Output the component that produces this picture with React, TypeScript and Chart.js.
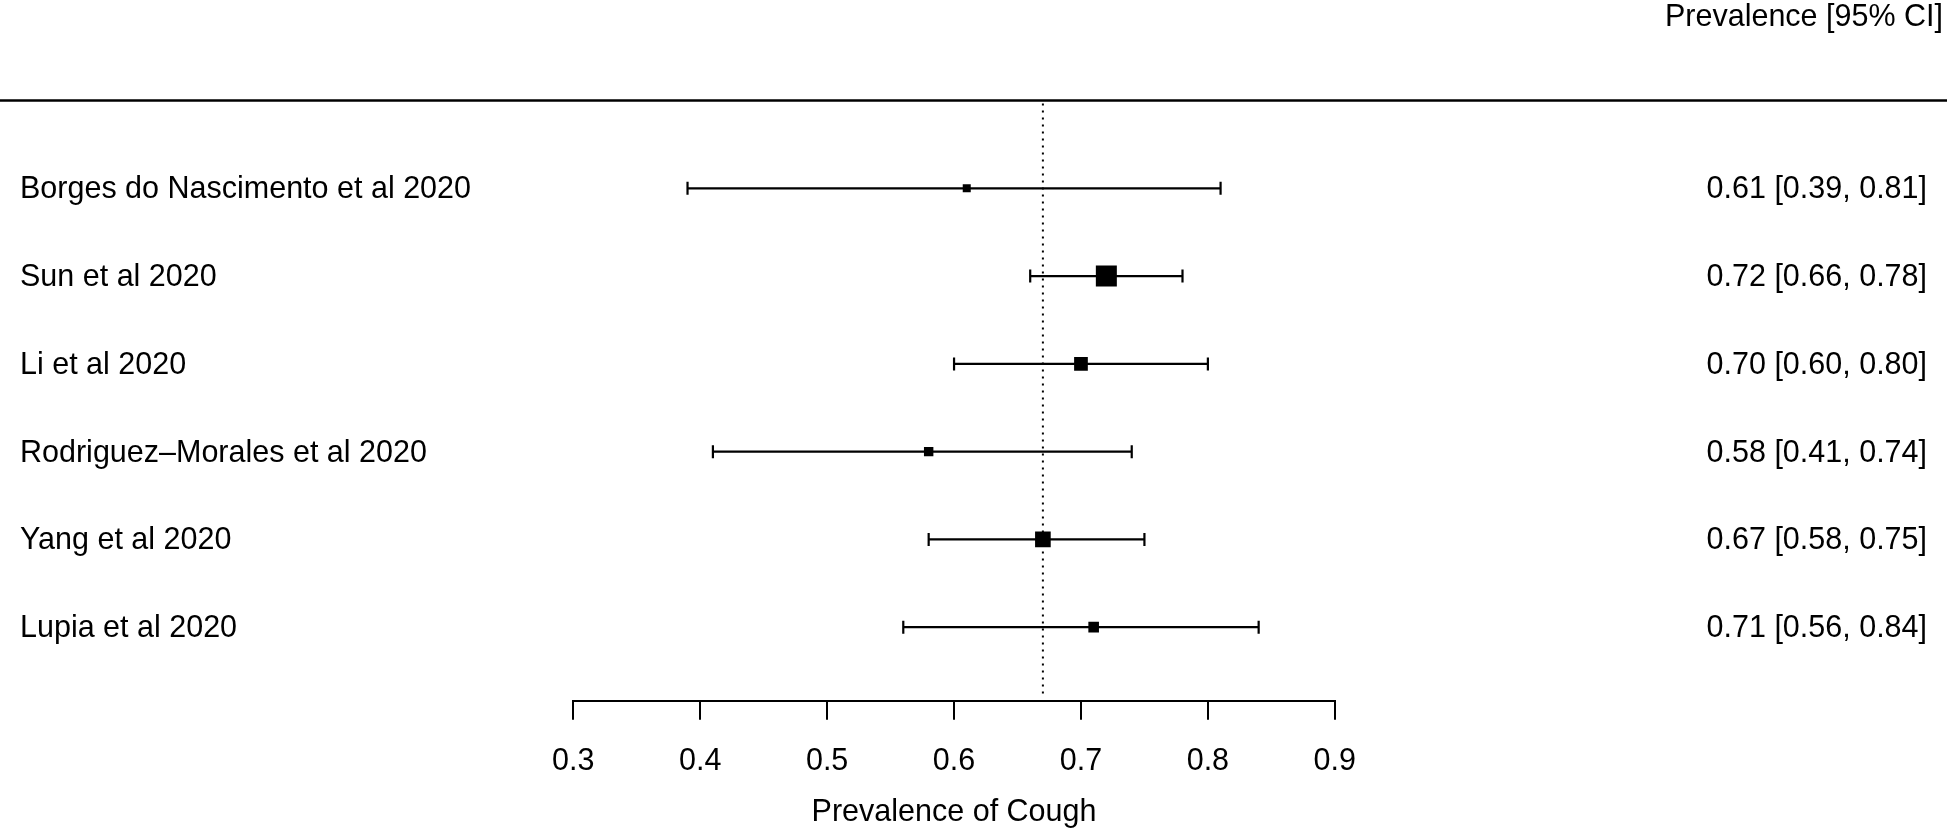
import React, { useEffect, useRef } from "react";
import { Chart, registerables } from "chart.js";

Chart.register(...registerables);

// ---- data ----
const studies: string[] = [
  "Borges do Nascimento et al 2020",
  "Sun et al 2020",
  "Li et al 2020",
  "Rodriguez–Morales et al 2020",
  "Yang et al 2020",
  "Lupia et al 2020",
];
const estimates: number[] = [0.61, 0.72, 0.70, 0.58, 0.67, 0.71];
const lowerCI: number[] = [0.39, 0.66, 0.60, 0.41, 0.58, 0.56];
const upperCI: number[] = [0.81, 0.78, 0.80, 0.74, 0.75, 0.84];
const pooledEstimate = 0.67;
const xTicks: number[] = [0.3, 0.4, 0.5, 0.6, 0.7, 0.8, 0.9];
const headerText = "Prevalence [95% CI]";
const xTitle = "Prevalence of Cough";

// ---- style ----
const FONT = "'Liberation Sans', Arial, Helvetica, sans-serif";
const FS = 30.5;
const W = 1947;
const H = 829;

// marker side (px) proportional to precision (1 / CI width), scaled between min and max
const precision = lowerCI.map((lo, i) => 1 / (upperCI[i] - lo));
const pMin = Math.min(...precision);
const pMax = Math.max(...precision);
const markerSide = precision.map((p) => 8 + ((p - pMin) / (pMax - pMin)) * 13);

const rowY = studies.map((_, i) => studies.length - i);

const forestPlugin = {
  id: "forest",
  beforeDatasetsDraw(chart: any) {
    const { ctx, chartArea, scales } = chart;
    const xs = scales.x;
    const ys = scales.y;
    ctx.save();
    // top rule
    ctx.strokeStyle = "#000";
    ctx.lineWidth = 2.5;
    ctx.beginPath();
    ctx.moveTo(0, ys.getPixelForValue(7));
    ctx.lineTo(W, ys.getPixelForValue(7));
    ctx.stroke();

    // header
    ctx.fillStyle = "#000";
    ctx.font = `${FS}px ${FONT}`;
    ctx.textAlign = "right";
    ctx.textBaseline = "middle";
    ctx.fillText(headerText, 1943, 18);

    // dotted pooled line
    const px = xs.getPixelForValue(pooledEstimate);
    ctx.lineWidth = 2;
    ctx.setLineDash([2, 5]);
    ctx.beginPath();
    ctx.moveTo(px, chartArea.top + 3);
    ctx.lineTo(px, chartArea.bottom - 4);
    ctx.stroke();
    ctx.setLineDash([]);

    // error bars + texts
    studies.forEach((name, i) => {
      const y = ys.getPixelForValue(rowY[i]);
      const x1 = xs.getPixelForValue(lowerCI[i]);
      const x2 = xs.getPixelForValue(upperCI[i]);
      ctx.lineWidth = 2.2;
      ctx.beginPath();
      ctx.moveTo(x1, y);
      ctx.lineTo(x2, y);
      ctx.moveTo(x1, y - 6.5);
      ctx.lineTo(x1, y + 6.5);
      ctx.moveTo(x2, y - 6.5);
      ctx.lineTo(x2, y + 6.5);
      ctx.stroke();

      ctx.textAlign = "left";
      ctx.fillText(name, 20, y + 1.5);
      ctx.textAlign = "right";
      ctx.fillText(
        `${estimates[i].toFixed(2)} [${lowerCI[i].toFixed(2)}, ${upperCI[i].toFixed(2)}]`,
        1927,
        y + 1.5
      );
    });
    ctx.restore();
  },
};

export default function App() {
  const ref = useRef<HTMLCanvasElement | null>(null);
  useEffect(() => {
    document.body.style.margin = "0";
    if (!ref.current) return;
    const chart = new Chart(ref.current, {
      type: "scatter",
      data: {
        datasets: [
          {
            data: estimates.map((v, i) => ({ x: v, y: rowY[i] })),
            pointStyle: "rect",
            pointRadius: markerSide.map((s) => s / Math.SQRT2),
            backgroundColor: "#000",
            borderWidth: 0,
          },
        ],
      },
      options: {
        animation: false,
        responsive: true,
        maintainAspectRatio: false,
        events: [],
        layout: { padding: { left: 573.3, right: W - 1334.8, top: 100.6, bottom: 0 } },
        plugins: { legend: { display: false }, tooltip: { enabled: false } },
        scales: {
          x: {
            type: "linear",
            min: 0.3,
            max: 0.9,
            afterBuildTicks: (scale: any) => {
              scale.ticks = xTicks.map((v) => ({ value: v }));
            },
            afterFit: (scale: any) => {
              scale.height = H - 700.7;
            },
            ticks: {
              color: "#000",
              font: { family: FONT, size: FS },
              padding: 24,
              maxRotation: 0,
              autoSkip: false,
              callback: (v: any) => Number(v).toFixed(1),
            },
            grid: {
              drawOnChartArea: false,
              drawTicks: true,
              tickLength: 19,
              color: "#000",
              lineWidth: 2,
            },
            border: { display: true, color: "#000", width: 2 },
            title: {
              display: true,
              text: xTitle,
              color: "#000",
              font: { family: FONT, size: FS },
              padding: { top: 0, bottom: -2 },
            },
          },
          y: {
            type: "linear",
            min: 0.162,
            max: 7,
            display: false,
          },
        },
      },
      plugins: [forestPlugin],
    } as any);
    return () => chart.destroy();
  }, []);
  return (
    <div style={{ position: "relative", width: W, height: H }}>
      <canvas ref={ref} />
    </div>
  );
}
